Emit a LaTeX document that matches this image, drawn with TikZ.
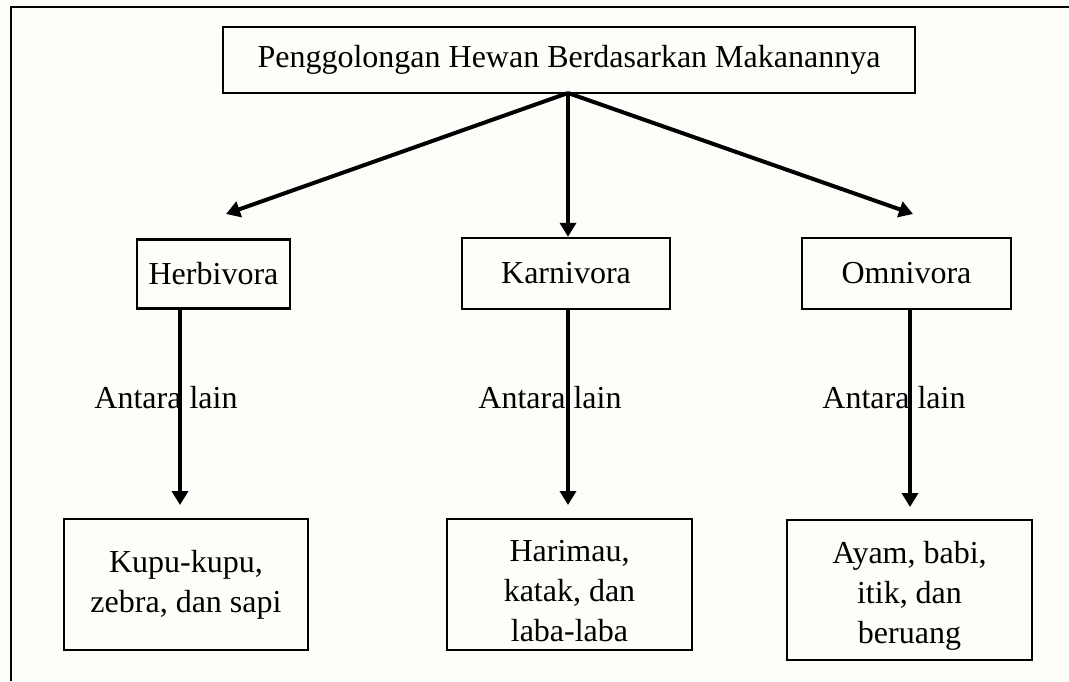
\documentclass[tikz,border=0pt]{standalone}
\usepackage{fontspec}
\setmainfont{Liberation Serif}
\usetikzlibrary{arrows.meta}
\definecolor{paper}{HTML}{FDFDF9}
\newcommand{\tallstrut}{\rule{0pt}{17pt}}
\begin{document}
\begin{tikzpicture}[x=0.5pt,y=-0.5pt,
  every node/.style={font=\fontsize{16}{20}\selectfont, inner sep=0pt},
  box/.style={draw, line width=1.2pt, align=center},
  link/.style={line width=2pt, -{Triangle[length=7pt,width=8pt]}},
  note/.style={anchor=base}]
  % page and frame
  \fill[paper] (0,0) rectangle (1069,681);
  \useasboundingbox (0,0) rectangle (1069,681);
  \draw[line width=1.4pt] (11,681) -- (11,7) -- (1069,7);

  % title
  \node[box, minimum width=346pt, minimum height=33pt] (top) at (569,60)
    {Penggolongan Hewan Berdasarkan Makanannya};

  % groups
  \node[box, minimum width=76.5pt, minimum height=34.5pt] (herb) at (213.5,274) {Herbivora};
  \node[box, minimum width=104pt, minimum height=35.5pt] (karn) at (566,273.5) {Karnivora};
  \node[box, minimum width=104.5pt, minimum height=35.5pt] (omn) at (906.5,273.5) {Omnivora};

  % examples
  \node[box, minimum width=122pt, minimum height=65.5pt] (herbex) at (186,584.5)
    {Kupu-kupu,\\zebra, dan sapi};
  \node[box, minimum width=122.5pt, minimum height=65.5pt] (karnex) at (569.5,584.5)
    {\tallstrut Harimau,\\katak, dan\\laba-laba};
  \node[box, minimum width=122.5pt, minimum height=70pt] (omnex) at (909.5,590)
    {\tallstrut Ayam, babi,\\itik, dan\\beruang};

  % arrow ends
  \coordinate (split) at (568,93);
  \coordinate (hTip) at (226,214);
  \coordinate (oTip) at (913,214);
  \coordinate (hDown) at (180,505);
  \coordinate (kDown) at (568,505);
  \coordinate (oDown) at (910,507);

  \draw[link] (split) -- (hTip);
  \draw[link] (split) -- (split |- karn.north);
  \draw[link] (split) -- (oTip);

  \draw[link] (hDown |- herb.south) -- (hDown);
  \draw[link] (kDown |- karn.south) -- (kDown);
  \draw[link] (oDown |- omn.south) -- (oDown);

  % connector labels
  \node[note] (hLab) at (166,408) {Antara lain};
  \node[note] (kLab) at (550,408) {Antara lain};
  \node[note] (oLab) at (894,408) {Antara lain};
\end{tikzpicture}
\end{document}
